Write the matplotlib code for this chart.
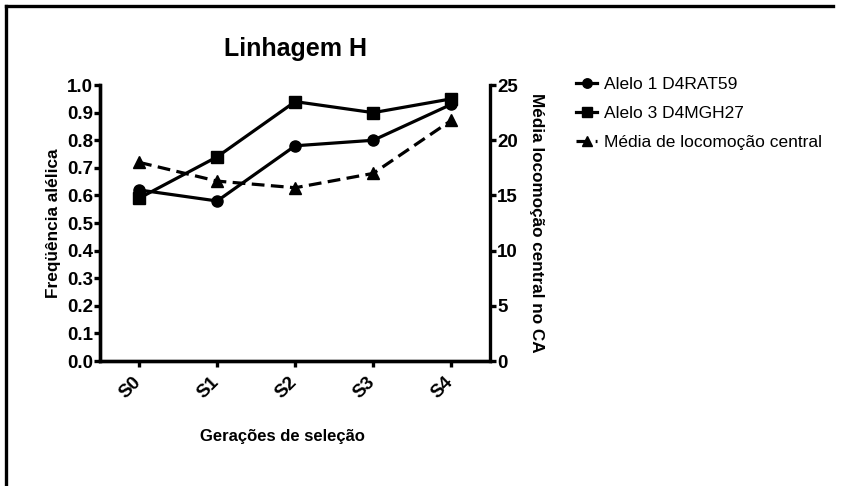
import matplotlib.pyplot as plt
from matplotlib.lines import Line2D
from matplotlib.transforms import ScaledTranslation

plt.rcParams['font.family'] = ['Liberation Sans', 'DejaVu Sans']

geracoes = ['S0', 'S1', 'S2', 'S3', 'S4']
alelo1_d4rat59 = [0.62, 0.58, 0.78, 0.80, 0.93]
alelo3_d4mgh27 = [0.59, 0.74, 0.94, 0.90, 0.95]
locomocao_central = [18.0, 16.3, 15.7, 17.0, 21.8]

fig = plt.figure(figsize=(8.41, 4.86), dpi=100)
ax = fig.add_axes([0.119, 0.257, 0.464, 0.568])
ax2 = ax.twinx()

x = range(len(geracoes))
l1, = ax.plot(x, alelo1_d4rat59, color='black', lw=2.3, marker='o', ms=8,
              label='Alelo 1 D4RAT59')
l2, = ax.plot(x, alelo3_d4mgh27, color='black', lw=2.3, marker='s', ms=8,
              label='Alelo 3 D4MGH27')
l3, = ax2.plot(x, locomocao_central, color='black', lw=2.3, ls=(0, (4, 2)),
               marker='^', ms=8, label='Média de locomoção central')

ax.set_xlim(-0.5, 4.5)
ax.set_ylim(0, 1.0)
ax2.set_ylim(0, 25)
ax.set_yticks([i / 10 for i in range(11)])
ax.set_yticklabels([f'{i / 10:.1f}' for i in range(11)])
ax2.set_yticks(range(0, 26, 5))
ax.set_xticks(list(x))
ax.set_xticklabels(geracoes, rotation=45, ha='right', va='top')

for a in (ax, ax2):
    for side in ('left', 'right', 'bottom', 'top'):
        a.spines[side].set_linewidth(2.4)
    a.spines['top'].set_visible(False)
    a.tick_params(width=2.4, length=4, labelsize=13.5, pad=1)
    for lab in a.get_xticklabels() + a.get_yticklabels():
        lab.set_fontweight('bold')
ax.spines['right'].set_visible(False)
ax.tick_params(axis='x', pad=5)

# nudge the slanted tick labels a little to the right
shift = ScaledTranslation(5 / 100, 0, fig.dpi_scale_trans)
for lab in ax.get_xticklabels():
    lab.set_transform(lab.get_transform() + shift)

ax.set_title('Linhagem H', fontsize=18, fontweight='bold', pad=21)
ax.set_xlabel('Gerações de seleção', fontsize=12, fontweight='bold')
ax.xaxis.set_label_coords(0.467, -0.245)
ax.set_ylabel('Freqüência alélica', fontsize=12.4, fontweight='bold', labelpad=4)
ax2.set_ylabel('Média locomoção central no CA', fontsize=12.3, fontweight='bold',
               rotation=-90, labelpad=19)

fig.legend(handles=[l1, l2, l3], loc='upper left',
           bbox_to_anchor=(0.666, 0.874), frameon=False, fontsize=12.5,
           handlelength=1.25, handletextpad=0.35, labelspacing=0.8,
           markerscale=0.85)

# open frame: only top and left edges
fig.add_artist(Line2D([0.007, 0.99], [0.987, 0.987], color='black', lw=2.4,
                      transform=fig.transFigure))
fig.add_artist(Line2D([0.007, 0.007], [0.0, 0.987], color='black', lw=2.4,
                      transform=fig.transFigure))

fig.savefig('out.png', dpi=100)
